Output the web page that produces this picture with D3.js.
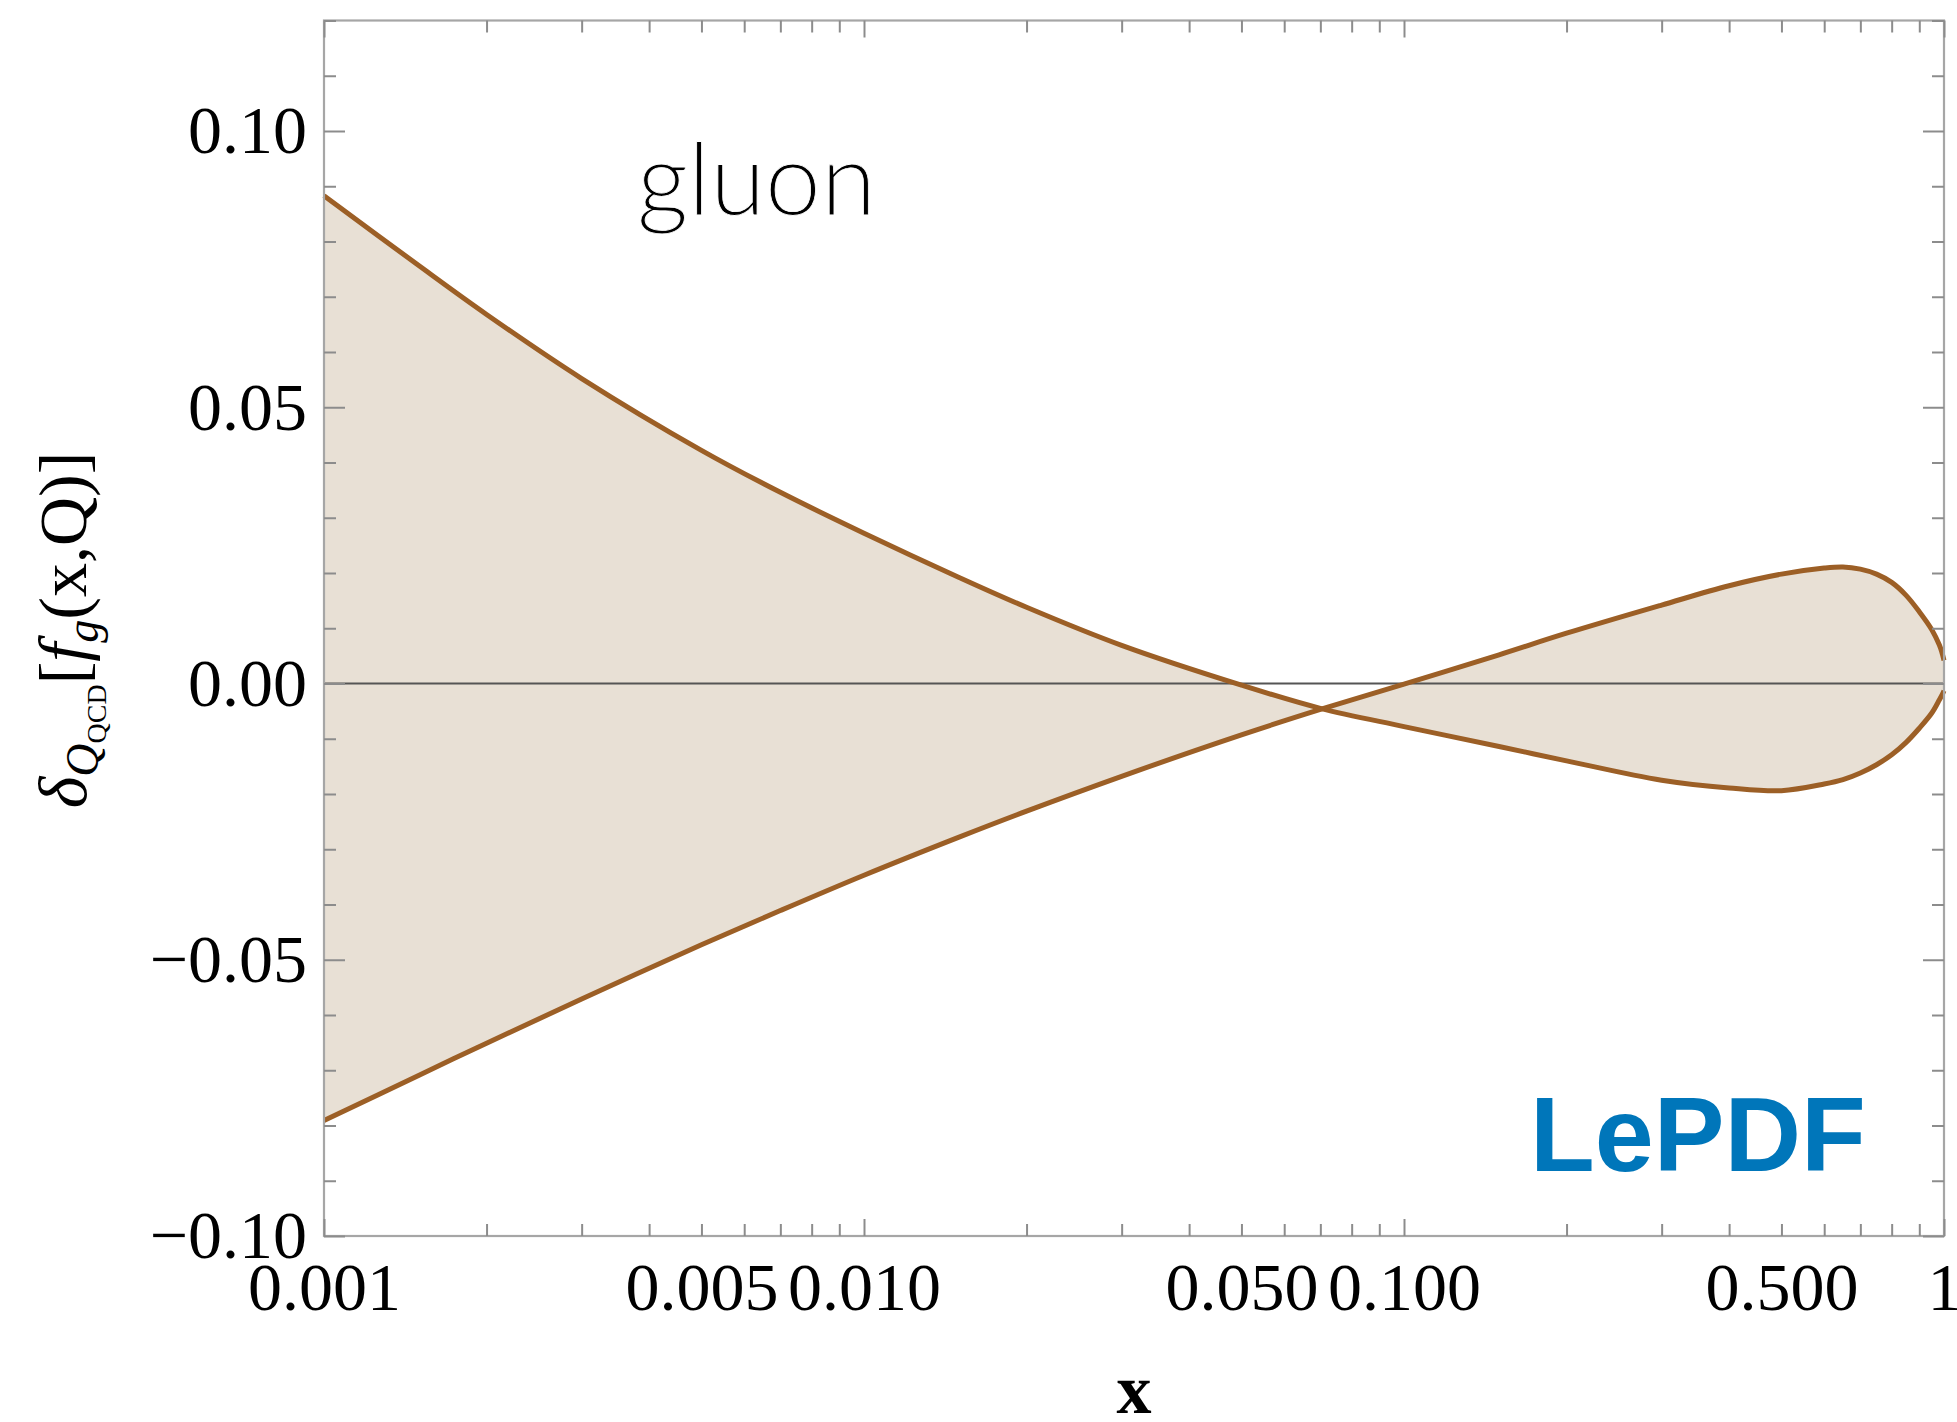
<!DOCTYPE html>
<html>
<head>
<meta charset="utf-8">
<script src="https://cdn.jsdelivr.net/npm/d3@7"></script>
<style>
  body { margin: 0; background: #fff; }
  svg { display: block; }
</style>
</head>
<body>
<svg id="chart"></svg>
<script>
// band edges, x on a log grid
const xValues = [0.001, 0.0015, 0.002, 0.003, 0.005, 0.007, 0.01, 0.015, 0.02, 0.03, 0.05, 0.07, 0.1, 0.15, 0.2, 0.3, 0.4, 0.5, 0.6, 0.65, 0.7, 0.75, 0.8, 0.85, 0.9, 0.95, 0.98, 0.99, 1];
const edgeA = [0.0883, 0.0756, 0.0668, 0.0552, 0.0422, 0.0346, 0.0272, 0.0192, 0.0138, 0.0069, -0.0003, -0.0045, -0.0078, -0.0114, -0.0140, -0.0175, -0.0189, -0.0194, -0.0182, -0.0174, -0.0162, -0.0147, -0.0129, -0.0107, -0.0081, -0.0053, -0.0030, -0.0022, -0.0013];
const edgeB = [-0.0791, -0.0709, -0.0651, -0.0571, -0.0473, -0.0411, -0.0347, -0.0278, -0.0231, -0.0168, -0.0093, -0.0047, -0.0001, 0.0052, 0.0091, 0.0142, 0.0177, 0.0198, 0.0209, 0.0211, 0.0207, 0.0198, 0.0183, 0.0160, 0.0130, 0.0097, 0.0070, 0.0058, 0.0042];

const yMajorTicks = [-0.1, -0.05, 0, 0.05, 0.1];
const yMajorLabels = ["\u22120.10", "\u22120.05", "0.00", "0.05", "0.10"];
const xMajorTicks = [0.001, 0.01, 0.1, 1];
const xLabelTicks = [0.001, 0.005, 0.01, 0.05, 0.1, 0.5, 1];
const xLabels = ["0.001", "0.005", "0.010", "0.050", "0.100", "0.500", "1"];

const svgWidth = 1957;
const svgHeight = 1422;
const plot = {left: 324, right: 1944, top: 20.5, bottom: 1236};
const serif = "'Liberation Serif', 'Times New Roman', serif";
const tickColor = "#8c8c8c";

const svg = d3.select("#chart")
    .attr("width", svgWidth)
    .attr("height", svgHeight);

const x = d3.scaleLog()
    .domain([0.001, 1])
    .range([plot.left, plot.right]);

const y = d3.scaleLinear()
    .domain([-0.10, 0.12])
    .range([plot.bottom, plot.top]);

const points = xValues.map((d, i) => ({x: d, a: edgeA[i], b: edgeB[i]}));

// minor tick positions
const yMinorTicks = d3.range(-10, 13).map(i => i / 100)
    .filter(v => !yMajorTicks.some(m => Math.abs(m - v) < 1e-9));
const xMinorTicks = [];
[0.001, 0.01, 0.1].forEach(dec => {
    for (let k = 2; k <= 9; k++) xMinorTicks.push(dec * k);
});

const smooth = d3.curveCatmullRom.alpha(0.5);

// filled band between the two edges
const band = d3.area()
    .x(d => x(d.x))
    .y0(d => y(d.b))
    .y1(d => y(d.a))
    .curve(smooth);

svg.append("path")
    .attr("d", band(points))
    .attr("fill", "#e8e0d5")
    .attr("stroke", "none");

// zero line
svg.append("line")
    .attr("x1", plot.left)
    .attr("x2", plot.right)
    .attr("y1", y(0))
    .attr("y2", y(0))
    .attr("stroke", "#555")
    .attr("stroke-width", 2.2);

const lineA = d3.line().x(d => x(d.x)).y(d => y(d.a)).curve(smooth);
const lineB = d3.line().x(d => x(d.x)).y(d => y(d.b)).curve(smooth);

[lineA, lineB].forEach(gen => {
    svg.append("path")
        .attr("d", gen(points))
        .attr("fill", "none")
        .attr("stroke", "#9c5f26")
        .attr("stroke-width", 5);
});

// frame
svg.append("rect")
    .attr("x", plot.left)
    .attr("y", plot.top)
    .attr("width", plot.right - plot.left)
    .attr("height", plot.bottom - plot.top)
    .attr("fill", "none")
    .attr("stroke", "#a6a6a6")
    .attr("stroke-width", 2.2);

// inward ticks on all four sides
function tickAxis(axis, transform) {
    svg.append("g")
        .attr("transform", transform)
        .call(axis.tickFormat(""))
        .call(g => g.select(".domain").remove())
        .call(g => g.selectAll("line").attr("stroke", tickColor).attr("stroke-width", 2));
}

tickAxis(d3.axisLeft(y).tickValues(yMajorTicks).tickSizeInner(-21).tickSizeOuter(0), `translate(${plot.left},0)`);
tickAxis(d3.axisLeft(y).tickValues(yMinorTicks).tickSizeInner(-12).tickSizeOuter(0), `translate(${plot.left},0)`);
tickAxis(d3.axisRight(y).tickValues(yMajorTicks).tickSizeInner(-21).tickSizeOuter(0), `translate(${plot.right},0)`);
tickAxis(d3.axisRight(y).tickValues(yMinorTicks).tickSizeInner(-12).tickSizeOuter(0), `translate(${plot.right},0)`);
tickAxis(d3.axisBottom(x).tickValues(xMajorTicks).tickSizeInner(-17).tickSizeOuter(0), `translate(0,${plot.bottom})`);
tickAxis(d3.axisBottom(x).tickValues(xMinorTicks).tickSizeInner(-12).tickSizeOuter(0), `translate(0,${plot.bottom})`);
tickAxis(d3.axisTop(x).tickValues(xMajorTicks).tickSizeInner(-17).tickSizeOuter(0), `translate(0,${plot.top})`);
tickAxis(d3.axisTop(x).tickValues(xMinorTicks).tickSizeInner(-12).tickSizeOuter(0), `translate(0,${plot.top})`);

// tick labels
svg.append("g")
    .attr("transform", `translate(${plot.left},0)`)
    .call(d3.axisLeft(y).tickValues(yMajorTicks).tickFormat((d, i) => yMajorLabels[i]).tickSize(0).tickPadding(17))
    .call(g => g.select(".domain").remove())
    .attr("font-family", serif)
    .attr("font-size", 68)
    .selectAll("text").attr("fill", "#000");

svg.append("g")
    .attr("transform", `translate(0,${plot.bottom})`)
    .call(d3.axisBottom(x).tickValues(xLabelTicks).tickFormat((d, i) => xLabels[i]).tickSize(0).tickPadding(26))
    .call(g => g.select(".domain").remove())
    .attr("font-family", serif)
    .attr("font-size", 68)
    .selectAll("text").attr("fill", "#000");

// axis titles
svg.append("text")
    .attr("x", (plot.left + plot.right) / 2)
    .attr("y", 1413)
    .attr("text-anchor", "middle")
    .style("font-family", serif)
    .style("font-weight", "bold")
    .style("font-size", "70px")
    .text("x");

const yLabel = svg.append("text")
    .attr("transform", "translate(86,630) rotate(-90)")
    .attr("text-anchor", "middle")
    .style("font-family", serif)
    .style("font-size", "68px");
yLabel.append("tspan").style("font-style", "italic").text("\u03b4");
yLabel.append("tspan").style("font-style", "italic").style("font-size", "46px").attr("dy", 12).text("Q");
yLabel.append("tspan").style("font-size", "28px").attr("dy", 8).text("QCD");
yLabel.append("tspan").attr("dy", -20).text("[");
yLabel.append("tspan").style("font-style", "italic").text("f");
yLabel.append("tspan").style("font-style", "italic").style("font-size", "46px").attr("dy", 12).text("g");
yLabel.append("tspan").attr("dy", -12).text("(x,Q)]");

// annotations
svg.append("text")
    .attr("x", 637)
    .attr("y", 215)
    .style("font-family", "Lato, sans-serif")
    .style("font-weight", 300)
    .style("font-size", "100px")
    .attr("fill", "#000")
    .attr("stroke", "#fff")
    .attr("stroke-width", 0.8)
    .text("gluon");

svg.append("text")
    .attr("x", 1530)
    .attr("y", 1171)
    .style("font-family", "'Liberation Sans', Arial, sans-serif")
    .style("font-weight", "bold")
    .style("font-size", "106px")
    .attr("fill", "#0076ba")
    .text("LePDF");
</script>
</body>
</html>
